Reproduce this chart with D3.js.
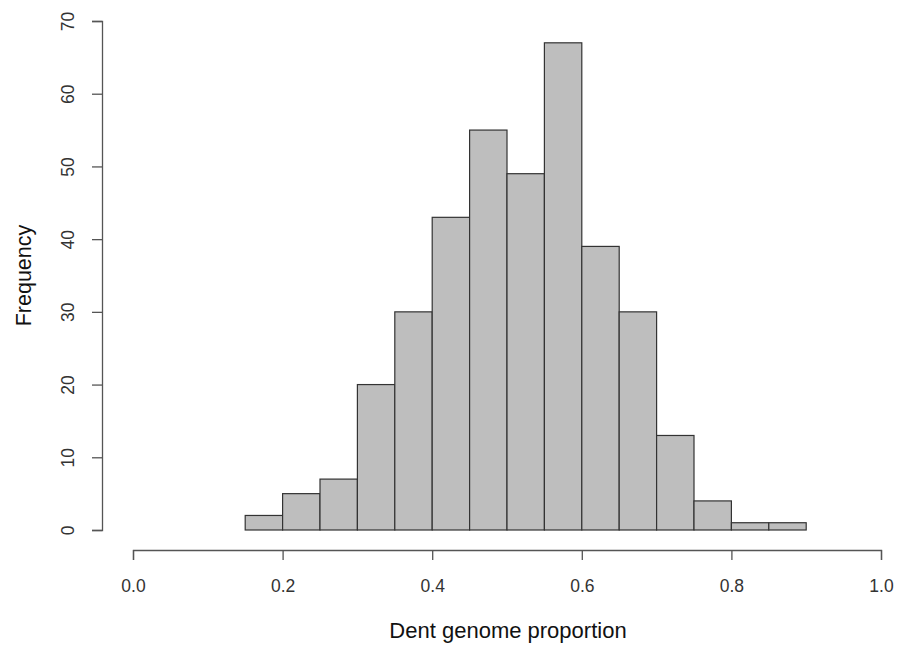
<!DOCTYPE html>
<html><head><meta charset="utf-8">
<script src="https://cdn.jsdelivr.net/npm/d3@7"></script>
<style>body{margin:0;background:#fff}svg{display:block}</style>
</head><body>
<script>
const binStarts = [0.15,0.20,0.25,0.30,0.35,0.40,0.45,0.50,0.55,0.60,0.65,0.70,0.75,0.80,0.85];
const binWidth = 0.05;
const counts = [2,5,7,20,30,43,55,49,67,39,30,13,4,1,1];
const xTicks = [0,0.2,0.4,0.6,0.8,1.0];
const yTicks = [0,10,20,30,40,50,60,70];
const xTitle = "Dent genome proportion";
const yTitle = "Frequency";

const W=900,H=648;
const svg=d3.select("body").append("svg").attr("width",W).attr("height",H);
const x=d3.scaleLinear().domain([0,1]).range([133,881]);
const y=d3.scaleLinear().domain([0,70]).range([530,21]);
const font="Liberation Sans, Arial, sans-serif";

svg.append("g").selectAll("rect").data(counts).join("rect")
  .attr("x",(d,i)=>x(binStarts[i]))
  .attr("y",d=>y(d))
  .attr("width",(d,i)=>x(binStarts[i]+binWidth)-x(binStarts[i]))
  .attr("height",d=>y(0)-y(d))
  .attr("fill","#bebebe").attr("stroke","#333").attr("stroke-width",1.2);

const xa=svg.append("g").attr("transform","translate(0,550)")
  .call(d3.axisBottom(x).tickValues(xTicks).tickFormat(d3.format(".1f")).tickSize(10).tickPadding(22));
const ya=svg.append("g").attr("transform","translate(102,0)")
  .call(d3.axisLeft(y).tickValues(yTicks).tickSize(10).tickPadding(12));
[xa,ya].forEach(a=>{
  a.select(".domain").attr("stroke","#555").attr("stroke-width",1.3);
  a.selectAll(".tick line").attr("stroke","#555").attr("stroke-width",1.3);
  a.selectAll("text").attr("font-family",font).attr("font-size",17.5).attr("fill","#333");
});
xa.selectAll(".tick text").attr("dy",0).attr("y",42);
ya.selectAll(".tick text").attr("text-anchor","middle").attr("x",0).attr("dy",0).attr("y",0)
  .attr("transform","translate(-28,0) rotate(-90)");

svg.append("text").attr("x",508).attr("y",638).attr("text-anchor","middle")
  .attr("font-family",font).attr("font-size",22).attr("fill","#111").text(xTitle);
svg.append("text").attr("transform",`translate(31,${y(35)}) rotate(-90)`).attr("text-anchor","middle")
  .attr("font-family",font).attr("font-size",21.5).attr("fill","#111").text(yTitle);
</script>
</body></html>
